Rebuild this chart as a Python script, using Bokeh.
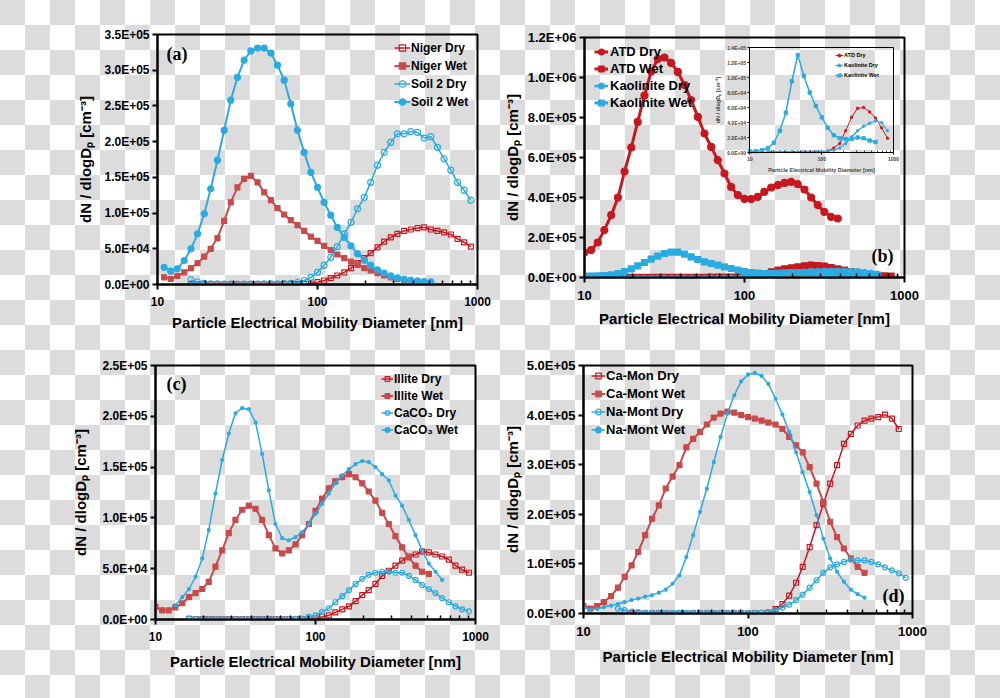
import math
from bokeh.plotting import figure
from bokeh.layouts import column, row
from bokeh.models import (Range1d, LogScale, LinearAxis, LogAxis, FixedTicker,
                          CustomJSTickFormatter, Legend, LegendItem, Label)
from bokeh.embed import file_html
from bokeh.resources import INLINE

# ---------------- data ----------------
# mobility-diameter bins [nm]
D = [10.0, 11.0, 12.1, 13.3, 14.7, 16.2, 17.8, 19.6, 21.5, 23.7, 26.1, 28.7,
     31.6, 34.8, 38.3, 42.2, 46.4, 51.1, 56.2, 61.9, 68.1, 75.0, 82.5, 90.9,
     100, 110, 121, 133, 147, 162, 178, 196, 215, 237, 261, 287, 316, 348,
     383, 422, 464, 511, 562, 619, 681, 750, 825, 909]

X_TICKS = [10, 100, 1000]
X_MINOR = [20, 30, 40, 50, 60, 70, 80, 90, 200, 300, 400, 500, 600, 700, 800, 900]
X_TITLE = "Particle Electrical Mobility Diameter [nm]"
Y_TITLE = "dN / dlogD\u209a [cm\u207b\u00b3]"

# each series: first bin index, bin step, values in 10^3 cm^-3
# panel (a)
NIGER_DRY = (5, 1, [0.8, 0.5, 0.4, 0.3, 0.3, 0.3, 0.3, 0.3, 0.3, 0.3, 0.3, 0.3, 0.3,
                    0.3, 0.4, 0.5, 0.6, 0.8,
                    1.4, 3.3, 5.6, 9, 12.6, 17, 23, 30, 37, 44, 52, 60, 66, 71, 75,
                    77, 79, 80, 77, 75, 73, 70, 64, 59, 53])
NIGER_WET = (1, 1, [10, 8, 12, 17, 23, 30, 39, 50, 65, 89, 115, 136, 148, 152, 143,
                    129, 118, 107, 98, 90, 83, 75, 67, 61, 54, 48, 42, 37, 32, 27.5,
                    23, 19.6, 16, 12.6, 10, 8, 6, 4.7, 3.7, 2.8, 2.3])
SOIL2_DRY = (5, 1, [6.5, 3.5, 1.5, 1.0, 0.8, 0.7, 0.6, 0.6, 0.6, 0.6, 0.7, 0.8, 0.9,
                    1.0, 1.2, 1.5,
                    2.8, 5.6, 10, 17, 27, 38, 53, 71, 87, 106, 122, 143, 167, 185,
                    199, 211, 211, 214, 213, 205, 207, 192, 176, 160, 143, 132, 118])
SOIL2_WET = (1, 1, [24, 18.7, 22, 33.6, 50, 71, 99, 134, 174, 216, 258, 290, 314, 327,
                    331, 331, 324, 307, 286, 253, 216, 185, 157, 136, 115, 97, 80, 66,
                    54, 43, 34, 27, 20.5, 16, 12, 9.3, 7.5, 6, 5, 4.2, 3.7])
# panel (b)
ATD_DRY = (0, 1, [125, 137, 175, 237, 312, 400, 530, 650, 778, 910, 1030, 1092, 1100,
                  1073, 1028, 962, 887, 803, 720, 653, 587, 520, 453, 412, 393, 392,
                  403, 428, 450, 462, 473, 478, 467, 440, 400, 362, 328, 303, 295])
ATD_WET = (6, 1, [1, 1, 1, 1, 1, 1, 1, 1, 1, 1, 1, 1, 1, 1.5, 1.5, 2, 2.5, 3, 4.5,
                  6.7, 11.7, 20, 28, 37, 43, 48, 53, 58, 62, 60, 57, 50, 43, 37, 30,
                  23, 18, 13, 10, 8, 7])
KAO_DRY = (0, 1, [3, 3, 3, 3, 3, 3, 3, 3, 3, 3, 3, 3, 3, 3, 3, 3, 3, 3, 3, 3, 3, 3, 4,
                  5, 7, 10, 13, 17, 20, 23, 27, 30, 33, 35, 37, 38, 40, 40, 40, 40,
                  38, 37, 33, 30, 25])
KAO_WET = (0, 1, [7, 7, 8, 10, 13, 20, 30, 43, 58, 75, 92, 107, 120, 127, 127, 117,
                  103, 90, 78, 70, 62, 53, 45, 37, 30, 25, 22, 20, 20, 22, 23, 25, 25,
                  25, 23, 22, 21, 20, 18, 17, 16, 15, 14, 13, 12])
# inset of panel (b)
IN_ATD_DRY = (24, 2, [1, 2, 6, 12, 29, 47, 59, 60, 54, 46, 33, 19])
IN_KAO_DRY = (6, 2, [1.3, 1.2, 1.1, 1.1, 1.1, 1.1, 1.1, 1.1, 1.2, 1.3, 1.5, 3,
                     6, 12, 21, 29, 35, 39, 42, 40, 29])
IN_KAO_WET = (0, 2, [1.3, 1.8, 3, 6, 13, 29, 53, 95, 130, 102, 80, 62, 47, 33, 23,
                     19, 18, 18, 20, 19, 16, 14])
# panel (c)
ILLITE_DRY = (5, 1, [0.6, 0.4, 0.3, 0.3, 0.3, 0.3, 0.3, 0.3, 0.3, 0.3, 0.3, 0.3, 0.3,
                     0.3, 0.3, 0.3, 0.3, 0.4, 0.5,
                     1, 2.6, 4, 7, 10, 13, 18, 24, 29, 35, 43, 48, 53, 58, 62, 64, 67,
                     66, 64, 62, 59, 53, 49, 46])
ILLITE_WET = (0, 1, [12.5, 9, 9, 12, 16, 22, 26, 30, 37, 52, 68, 85, 98, 108, 112, 109,
                     98, 83, 70, 65, 68, 74, 83, 94, 107, 119, 129, 136, 140, 143, 140,
                     134, 126, 117, 105, 94, 82, 71, 61, 53, 47, 45])
CACO3_DRY = (5, 1, [0.8, 0.5, 0.4, 0.3, 0.3, 0.3, 0.3, 0.3, 0.3, 0.3, 0.3, 0.3, 0.3,
                    0.3, 0.4, 0.5, 0.7,
                    1, 2.6, 4, 7.5, 11, 17, 23, 29, 35, 40, 44, 46, 47, 47, 46, 46, 43,
                    39, 34, 30, 26, 21, 17, 13, 10, 8])
CACO3_WET = (3, 1, [14, 22, 30, 42, 60, 88, 124, 157, 183, 203, 208, 207, 194, 163,
                    127, 94, 80, 78, 81, 86, 94, 104, 114, 124, 134, 142, 148, 153,
                    156, 155, 150, 143, 137, 122, 112, 98, 83, 68, 55, 47, 39])
# panel (d)
CAMON_DRY = (6, 1, [1, 0.5, 0.3, 0.3, 0.3, 0.3, 0.3, 0.3, 0.3, 0.3, 0.3, 0.3, 0.3,
                    0.3, 0.3, 0.3, 0.3, 0.3, 0.4, 0.6, 1,
                    2, 9, 19, 36, 62, 94, 134, 178, 221, 262, 299, 342, 362, 379, 389,
                    393, 396, 401, 393, 372])
CAMONT_WET = (0, 1, [15, 10, 15, 23, 35, 52, 74, 97, 124, 158, 191, 218, 252, 276, 299,
                     335, 352, 366, 381, 395, 403, 407, 405, 400, 396, 393, 389, 385,
                     381, 372, 356, 339, 325, 295, 262, 225, 185, 154, 131, 111, 94, 82])
NAMONT_DRY = (5, 1, [10, 7, 4, 2.7,
                     1.3, 1.3, 1.3, 1.3, 1.3, 1.3, 1.3, 1.3, 1.3, 1.3, 1.3, 1.3, 1.3,
                     1.3, 1.3, 1.3, 1.4, 1.8,
                     3, 7, 12, 18, 27, 38, 52, 67, 82, 93, 99, 104, 109, 107, 107, 104,
                     99, 93, 87, 81, 72])
NAMONT_WET = (0, 1, [13, 8, 9, 13, 16, 19, 23, 27, 30, 34, 37, 42, 48, 60, 77, 114, 158,
                     205, 252, 305, 356, 403, 440, 468, 482, 485, 479, 463, 433, 401,
                     366, 325, 285, 245, 198, 151, 111, 84, 64, 48, 39, 32])

Y_TICKS_A = [0, 50000, 100000, 150000, 200000, 250000, 300000, 350000]
Y_TICKS_B = [0, 200000, 400000, 600000, 800000, 1000000, 1200000]
Y_TICKS_INSET = [0, 20000, 40000, 60000, 80000, 100000, 120000, 140000]
Y_TICKS_C = [0, 50000, 100000, 150000, 200000, 250000]
Y_TICKS_D = [0, 100000, 200000, 300000, 400000, 500000]

# ---------------- styles ----------------
FONT = "Liberation Sans"
RED_D = "#c8171f"
RED_W = "#c94a4b"
BLUE = "#29abe2"

SCI = CustomJSTickFormatter(code=r"""
const s = tick.toExponential(1).toUpperCase();
return s.replace(/E([+-])(\d)$/, (m, a, b) => "E" + a + "0" + b);
""")
INTF = CustomJSTickFormatter(code="return tick.toFixed(0);")


def make_panel(w, h, bl, br, bt, bb, ymax, yticks, tick_fs, title_fs,
               x_lab_sd, x_title_sd, y_title_sd):
    p = figure(width=w, height=h, x_axis_type="log",
               x_range=Range1d(10, 1000), y_range=Range1d(0, ymax),
               output_backend="svg", toolbar_location=None,
               min_border_left=bl, min_border_right=br,
               min_border_top=bt, min_border_bottom=bb)
    p.background_fill_color = None
    p.border_fill_color = None
    p.outline_line_color = "black"
    p.outline_line_width = 2
    p.grid.visible = False
    xa = p.xaxis[0]
    xa.ticker = FixedTicker(ticks=X_TICKS, minor_ticks=X_MINOR)
    xa.formatter = INTF
    xa.axis_label = X_TITLE
    xa.major_tick_out = 5
    xa.major_tick_in = 0
    xa.minor_tick_in = 4
    xa.minor_tick_out = 0
    xa.major_label_standoff = x_lab_sd
    xa.axis_label_standoff = x_title_sd
    ya = p.yaxis[0]
    ya.ticker = FixedTicker(ticks=yticks)
    ya.formatter = SCI
    ya.axis_label = Y_TITLE
    ya.major_tick_out = 5
    ya.major_tick_in = 0
    ya.minor_tick_out = 0
    ya.minor_tick_in = 0
    ya.major_label_standoff = 3
    ya.axis_label_standoff = y_title_sd
    for ax in (xa, ya):
        ax.axis_line_width = 2
        ax.axis_line_color = "black"
        ax.major_tick_line_width = 2
        ax.minor_tick_line_width = 1.5
        ax.major_label_text_font = FONT
        ax.major_label_text_font_style = "bold"
        ax.major_label_text_font_size = tick_fs
        ax.major_label_text_color = "black"
        ax.axis_label_text_font = FONT
        ax.axis_label_text_font_style = "bold"
        ax.axis_label_text_font_size = title_fs
        ax.axis_label_text_color = "black"
    return p


def series(p, spec, color, marker, size, filled, lw, mlw=1.2, **kw):
    start, step, vals = spec
    xs = D[start:start + step * len(vals):step]
    ys = [v * 1000 for v in vals]
    ln = p.line(xs, ys, line_color=color, line_width=lw, **kw)
    sc = p.scatter(xs, ys, marker=marker, size=size, line_color=color,
                   line_width=mlw, fill_color=color if filled else None, **kw)
    return [ln, sc]


def legend(p, items, loc, gw, gh, sp, sd, fs):
    lg = Legend(items=[LegendItem(label=t, renderers=r) for t, r in items],
                location=loc, orientation="vertical", glyph_width=gw,
                glyph_height=gh, label_height=gh, spacing=sp, padding=0,
                margin=0, label_standoff=sd, border_line_color=None,
                background_fill_color=None, label_text_font=FONT,
                label_text_font_style="bold", label_text_font_size=fs,
                label_text_color="black")
    p.add_layout(lg)


def tag(p, text, x, y):
    p.add_layout(Label(x=x, y=y, x_units="screen", y_units="screen", text=text,
                       text_font="Liberation Serif", text_font_style="bold",
                       text_font_size="18px", text_baseline="middle",
                       text_color="black"))


# ---------------- panel (a) ----------------
pa = make_panel(500, 357, 157, 23, 34, 73, 350000, Y_TICKS_A, "12px", "15px",
                7, 5, 7)
r1 = series(pa, NIGER_DRY, RED_D, "square", 5, False, 1.5)
r2 = series(pa, NIGER_WET, RED_W, "square", 5, True, 2)
r3 = series(pa, SOIL2_DRY, BLUE, "circle", 6, False, 1.5)
r4 = series(pa, SOIL2_WET, BLUE, "circle", 6, True, 2)
legend(pa, [("Niger Dry", r1), ("Niger Wet", r2), ("Soil 2 Dry", r3),
            ("Soil 2 Wet", r4)], (237, 174), 16, 17, 1, 1, "12px")
tag(pa, "(a)", 9, 231)

# ---------------- panel (b) ----------------
pb = make_panel(500, 357, 83, 96, 37, 80, 1200000, Y_TICKS_B, "13px", "15px",
                8, 7, 4)
b1 = series(pb, ATD_DRY, RED_D, "circle", 7, True, 3)
b2 = series(pb, ATD_WET, RED_D, "square", 6, True, 3)
b3 = series(pb, KAO_DRY, BLUE, "circle", 3, True, 2.5)
b4 = series(pb, KAO_WET, BLUE, "square", 6, True, 3)
legend(pb, [("ATD Dry", b1), ("ATD Wet", b2), ("Kaolinite Dry", b3),
            ("Kaolinite Wet", b4)], (10, 166), 14, 17, 0, 2, "13px")
tag(pb, "(b)", 287, 22)

# inset of (b): frame at page pixels, main frame of (b) at page pixels
IN_L, IN_R, IN_T, IN_B = 749, 893, 47, 152
PB_L, PB_R, PB_T, PB_B = 583, 904, 37, 277
IN_XMIN, IN_XMAX, IN_YMAX = 10, 1000, 140000
dec_px = (math.log10(IN_XMAX) - math.log10(IN_XMIN)) / (IN_R - IN_L)
val_px = IN_YMAX / (IN_B - IN_T)
pb.extra_x_ranges = {"ix": Range1d(10 ** (math.log10(IN_XMIN) - (IN_L - PB_L) * dec_px),
                                   10 ** (math.log10(IN_XMAX) + (PB_R - IN_R) * dec_px))}
pb.extra_x_scales = {"ix": LogScale()}
pb.extra_y_ranges = {"iy": Range1d(-(PB_B - IN_B) * val_px,
                                   IN_YMAX + (IN_T - PB_T) * val_px)}
ikw = dict(x_range_name="ix", y_range_name="iy")
i1 = series(pb, IN_ATD_DRY, RED_D, "circle", 2.5, True, 1, mlw=0.8, **ikw)
i2 = series(pb, IN_KAO_DRY, BLUE, "circle", 2.5, True, 1.2, mlw=0.8, **ikw)
i3 = series(pb, IN_KAO_WET, BLUE, "square", 3.5, True, 1.5, mlw=0.8, **ikw)
legend(pb, [("ATD Dry", i1), ("Kaolinite Dry", i2), ("Kaolinite Wet", i3)],
       (251, 197), 8, 10, 0, 1, "5.5px")


def small_axis(ax, title):
    ax.axis_line_width = 1
    ax.axis_line_color = "black"
    ax.major_tick_line_width = 1
    ax.major_tick_out = 2
    ax.major_tick_in = 0
    ax.minor_tick_out = 0
    ax.minor_tick_in = 2
    ax.minor_tick_line_width = 0.7
    ax.major_label_standoff = 2
    ax.major_label_text_font = FONT
    ax.major_label_text_font_style = "bold"
    ax.major_label_text_font_size = "5px"
    ax.axis_label = title
    ax.axis_label_standoff = 3
    ax.axis_label_text_font = FONT
    ax.axis_label_text_font_style = "bold"
    ax.axis_label_text_font_size = "5.5px"


iy_ax = LinearAxis(fixed_location=IN_XMIN, bounds=(0, IN_YMAX),
                   ticker=FixedTicker(ticks=Y_TICKS_INSET), formatter=SCI, **ikw)
small_axis(iy_ax, Y_TITLE)
pb.add_layout(iy_ax, "left")
ix_ax = LogAxis(fixed_location=0, bounds=(IN_XMIN, IN_XMAX),
                ticker=FixedTicker(ticks=X_TICKS, minor_ticks=X_MINOR),
                formatter=INTF, **ikw)
small_axis(ix_ax, X_TITLE)
pb.add_layout(ix_ax, "below")
it_ax = LogAxis(fixed_location=IN_YMAX, bounds=(IN_XMIN, IN_XMAX),
                ticker=FixedTicker(ticks=[], minor_ticks=[]), axis_line_width=1,
                major_label_text_font_size="0px", **ikw)
pb.add_layout(it_ax, "above")
ir_ax = LinearAxis(fixed_location=IN_XMAX, bounds=(0, IN_YMAX),
                   ticker=FixedTicker(ticks=[], minor_ticks=[]), axis_line_width=1,
                   major_label_text_font_size="0px", **ikw)
pb.add_layout(ir_ax, "right")

# ---------------- panel (c) ----------------
pc = make_panel(500, 341, 155, 25, 8, 79, 250000, Y_TICKS_C, "12px", "15px",
                7, 9, 10)
c1 = series(pc, ILLITE_DRY, RED_D, "square", 5, False, 1.5)
c2 = series(pc, ILLITE_WET, RED_W, "square", 5, True, 2)
c3 = series(pc, CACO3_DRY, BLUE, "circle", 5, False, 1.5)
c4 = series(pc, CACO3_WET, BLUE, "circle", 3, True, 1.5)
legend(pc, [("Illite Dry", c1), ("Illite Wet", c2), ("CaCO\u2083 Dry", c3),
            ("CaCO\u2083 Wet", c4)], (226, 181), 12, 17, 0, 1, "12px")
tag(pc, "(c)", 11, 236)

# ---------------- panel (d) ----------------
pd_ = make_panel(500, 341, 82, 88, 8, 85, 500000, Y_TICKS_D, "13px", "15px",
                 8, 9, 3)
d1 = series(pd_, CAMON_DRY, RED_D, "square", 5, False, 1.5)
d2 = series(pd_, CAMONT_WET, RED_W, "square", 5, True, 2)
d3 = series(pd_, NAMONT_DRY, BLUE, "circle", 5, False, 1.5)
d4 = series(pd_, NAMONT_WET, BLUE, "circle", 3, True, 1.5)
legend(pd_, [("Ca-Mon Dry", d1), ("Ca-Mont Wet", d2), ("Na-Mont Dry", d3),
             ("Na-Mont Wet", d4)], (8, 175), 14, 17, 1, 1, "13px")
tag(pd_, "(d)", 299, 18)

layout = column(row(column(pa), column(pb)), row(column(pc), column(pd_)),
                styles={"background-color": "#ffffff",
                        "background-image": "repeating-conic-gradient(#ffffff 0% 25%, #dcdcdc 0% 50%)",
                        "background-size": "50px 50px",
                        "background-position": "0px 0px"})

open("out.html", "w").write(file_html(layout, INLINE))
